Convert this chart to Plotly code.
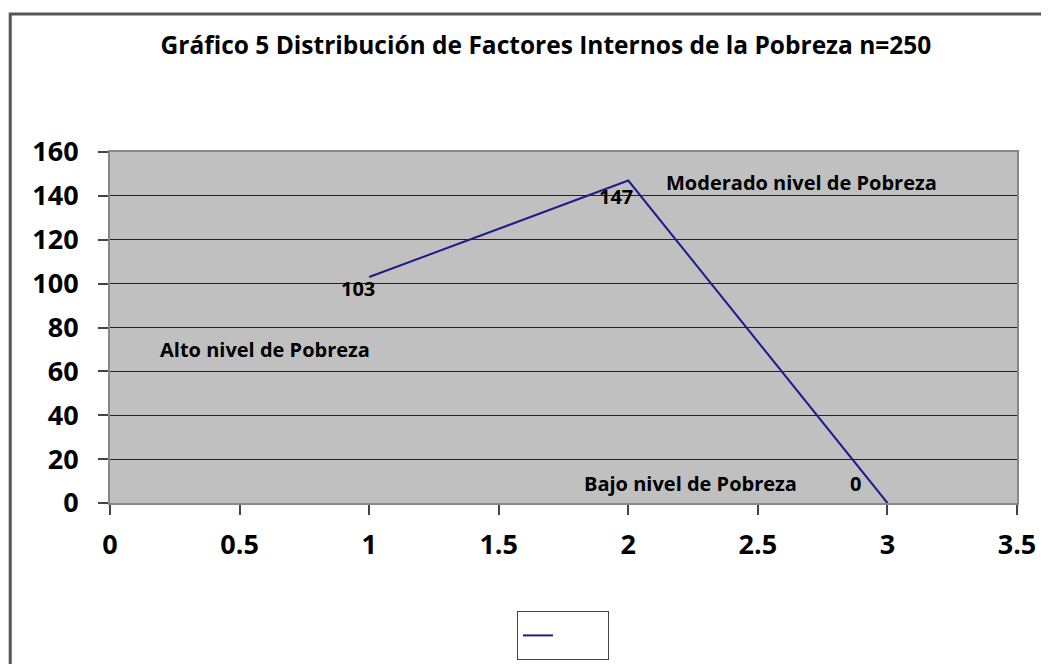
import plotly.graph_objects as go

# data
nivel = [1, 2, 3]
frecuencia = [103, 147, 0]
etiquetas = ['103', '147', '0']
categorias = ['Alto nivel de Pobreza', 'Moderado nivel de Pobreza', 'Bajo nivel de Pobreza']
x_ticks = [0, 0.5, 1, 1.5, 2, 2.5, 3, 3.5]
y_ticks = [0, 20, 40, 60, 80, 100, 120, 140, 160]

FONT = 'Open Sans, Lato, sans-serif'

fig = go.Figure()
fig.add_trace(go.Scatter(
    x=nivel, y=frecuencia, mode='lines', name=' ',
    line=dict(color='#1c1c8c', width=2),
    hoverinfo='x+y'
))

# value labels (shifted in pixels, like Excel's label placement)
offsets = [(-11, -11), (-12, -16), (-32, 20)]
for xv, yv, t, (ax, ay) in zip(nivel, frecuencia, etiquetas, offsets):
    fig.add_annotation(x=xv, y=yv, text=t, showarrow=False,
                       xshift=ax, yshift=ay,
                       font=dict(family=FONT, size=20, color='black', weight='bold'))

# category labels
cat_pos = [(0.6, 70), (2.67, 146), (2.24, 9)]
for (xv, yv), t in zip(cat_pos, categorias):
    fig.add_annotation(x=xv, y=yv, text=t, showarrow=False,
                       font=dict(family=FONT, size=20, color='black', weight='bold'))

# outer chart border
fig.add_shape(type='rect', xref='paper', yref='paper',
              x0=-0.11, x1=1.06, y0=-0.6, y1=1.393,
              line=dict(color='#555555', width=3), layer='below')

tickfont = dict(family=FONT, size=27, color='black', weight='bold')

fig.update_layout(
    width=1049, height=664,
    margin=dict(l=102, r=40, t=144, b=169),
    paper_bgcolor='white', plot_bgcolor='#c0c0c0',
    title=dict(text='Gráfico 5 Distribución de Factores Internos de la Pobreza n=250',
               x=0.4807, xref='paper', xanchor='center', y=0.944, yanchor='middle',
               font=dict(family=FONT, size=24.5, color='black', weight='bold')),
    font=dict(family=FONT, color='black'),
    showlegend=True,
    legend=dict(x=0.4487, y=-0.3077, xanchor='left', yanchor='top',
                orientation='h', entrywidth=45,
                bgcolor='white', bordercolor='#444444', borderwidth=1,
                font=dict(size=26)),
    xaxis=dict(range=[0, 3.5], tickvals=x_ticks, ticktext=[f'{v:g}' for v in x_ticks],
               showgrid=False, zeroline=False, showline=True, mirror=True,
               linecolor='#888888', linewidth=2,
               ticks='outside', ticklen=10, tickcolor='#444444', tickwidth=1.5,
               ticklabelstandoff=7, tickfont=tickfont),
    yaxis=dict(range=[0, 160], tickvals=y_ticks,
               showgrid=True, gridcolor='#222222', gridwidth=1, zeroline=False,
               showline=True, mirror=True, linecolor='#888888', linewidth=2,
               ticks='outside', ticklen=10, tickcolor='#444444', tickwidth=1.5,
               ticklabelstandoff=14, tickfont=tickfont),
)

fig.write_html('out.html')
